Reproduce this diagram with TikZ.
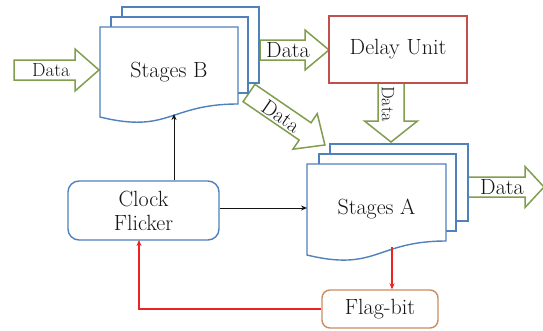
\documentclass[tikz,border=0pt]{standalone}
\usepackage{fontspec}
\usetikzlibrary{arrows.meta}

\definecolor{docblue}{RGB}{79,129,189}
\definecolor{delayred}{RGB}{192,80,77}
\definecolor{arrgreen}{RGB}{128,158,78}
\definecolor{flagorange}{RGB}{205,140,95}
\definecolor{signalred}{RGB}{235,35,35}
\definecolor{inkgrey}{RGB}{20,20,20}

% block arrow: tail x, tail y, angle, length, body half width, head half width, head length
\newcommand\blockarrow[7]{%
  \draw[dataarr,shift={(#1,#2)},rotate=#3]
    (0,-#5) -- ({#4-#7},-#5) -- ({#4-#7},-#6) -- (#4,0)
    -- ({#4-#7},#6) -- ({#4-#7},#5) -- (0,#5) -- cycle;}

\tikzset{
  lbl/.style={font=\fontsize{22}{24}\selectfont, text=inkgrey, inner sep=0pt},
  smalllbl/.style={font=\fontsize{#1}{#1}\selectfont, text=inkgrey, inner sep=0pt},
  dataarr/.style={draw=arrgreen, line width=1.5pt, fill=white, line join=miter},
  docpage/.style={draw=docblue, line width=1.4pt, fill=white},
  clockbox/.style={draw=docblue, line width=1.4pt, fill=white, rounded corners=11pt,
    minimum width=151pt, minimum height=59pt, align=center,
    font=\fontsize{22}{24}\selectfont, text=inkgrey},
  delaybox/.style={draw=delayred, line width=1.4pt, fill=white,
    minimum width=138pt, minimum height=67pt, font=\fontsize{22}{24}\selectfont, text=inkgrey},
  flagbox/.style={draw=flagorange, line width=1.4pt, fill=white, rounded corners=8pt,
    minimum width=116pt, minimum height=38pt, font=\fontsize{22}{24}\selectfont, text=inkgrey},
  ctrl/.style={draw=inkgrey, line width=1pt, -{Stealth[length=6pt,width=5pt]}},
  flagline/.style={draw=signalred, line width=1.3pt, -{Stealth[length=6pt,width=5pt]}},
}

\begin{document}
\begin{tikzpicture}[x=1pt,y=-1pt]
\useasboundingbox (0,0) rectangle (543,330);
\fill[white] (0,0) rectangle (543,330);

% data flow arrows (drawn first, the blocks sit on top)
\blockarrow{14}{70}{0}{85}{10}{21}{24}
\blockarrow{260}{50}{0}{69}{10}{20}{24}
\blockarrow{391}{83}{-90}{59}{13}{26.5}{21}
\blockarrow{249}{93}{-34.4}{92}{10.5}{21.5}{24}
\blockarrow{468}{187}{0}{76}{10}{20.5}{19}

\node[smalllbl=19] (dataIn) at (51,70) {Data};
\node[lbl] (dataBD) at (288,50) {Data};
\node[smalllbl=18, rotate=-90] (dataDA) at (388,104) {Data};
\node[smalllbl=21, rotate=-34.4] (dataBA) at (281,116) {Data};
\node[lbl] (dataOut) at (502,187) {Data};

% Stages B: stacked documents
\draw[docpage] (122,7) rectangle (259,83);
\draw[docpage] (111,17) rectangle (248,93);
\draw[docpage] (100,27) -- (238,27) -- (238,104)
  .. controls (169,104) and (169,134) .. (100,117) -- cycle;
\node[lbl] (stagesB) at (169,72) {Stages B};
\coordinate (bwave) at (174,114);

% Stages A: stacked documents
\draw[docpage] (330,144) rectangle (468,221);
\draw[docpage] (319,154) rectangle (456,231);
\draw[docpage] (307,164) -- (446,164) -- (446,241)
  .. controls (376.5,241) and (376.5,272) .. (307,255) -- cycle;
\node[lbl] (stagesA) at (376.5,209) {Stages A};
\coordinate (aleft) at (307,208);
\coordinate (awave) at (392,247);

% plain blocks
\node[delaybox] (delay) at (398,49.5) {Delay Unit};
\node[clockbox] (clock) at (143.5,210.5) {Clock\\Flicker};
\node[flagbox] (flag) at (380,309) {Flag-bit};
\coordinate (clockin) at (139,240);

% control connections
\draw[ctrl] (clock.north -| bwave) -- (bwave);
\draw[ctrl] (clock.east |- aleft) -- (aleft);
\draw[flagline] (awave) -- (awave |- flag.north);
\draw[flagline] (flag.west) -| (clockin);
\end{tikzpicture}
\end{document}
